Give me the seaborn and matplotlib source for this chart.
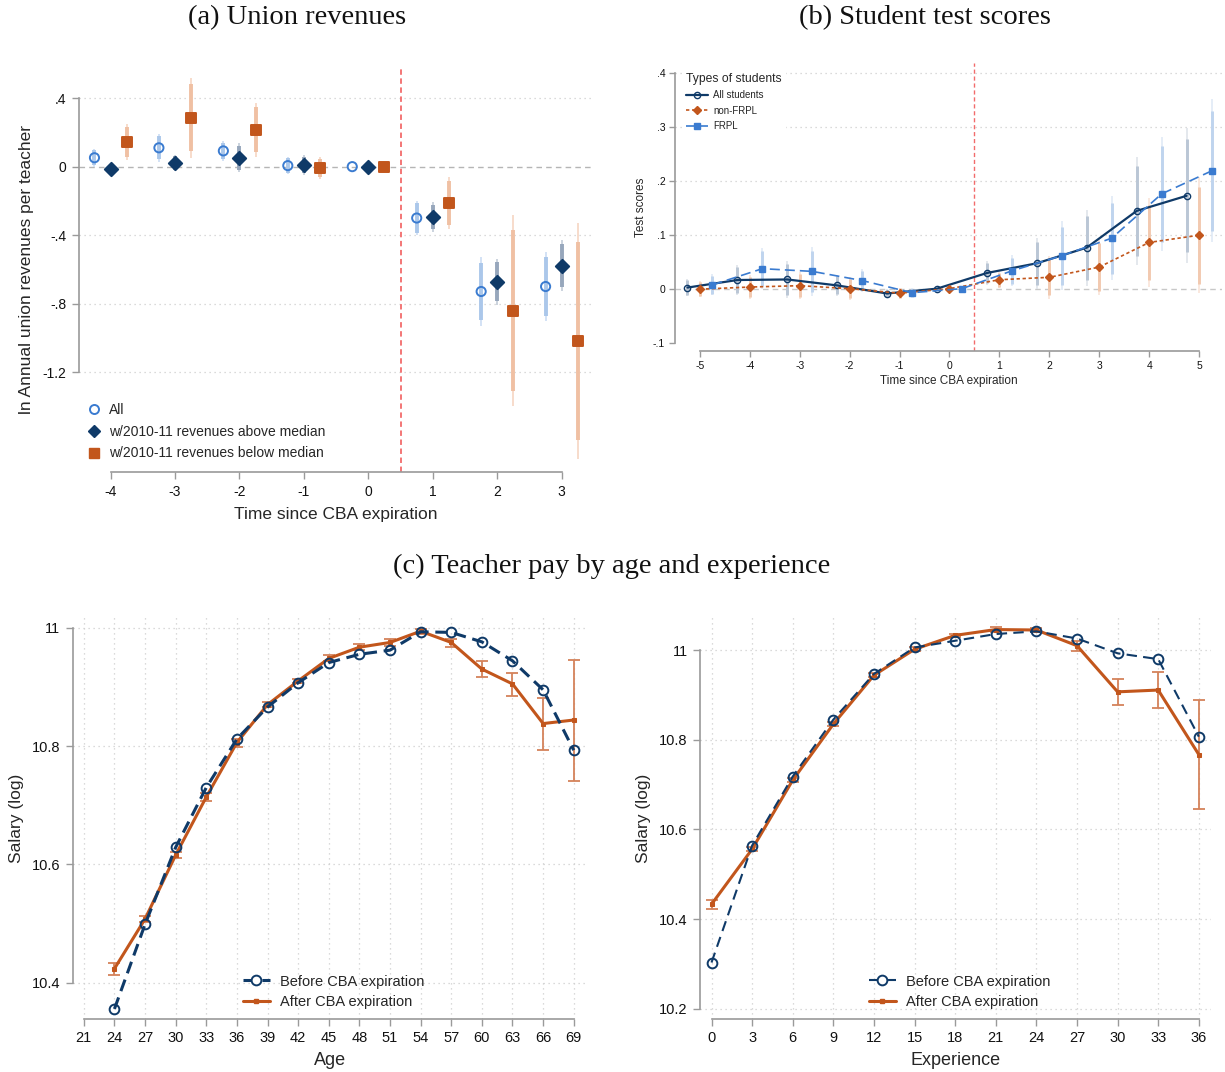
import numpy as np
import pandas as pd
import matplotlib
matplotlib.use("Agg")
import matplotlib.pyplot as plt
from matplotlib.ticker import FuncFormatter
from matplotlib.lines import Line2D
import seaborn as sns

sns.set_theme(style="white")
plt.rcParams["font.family"] = ["Liberation Sans", "DejaVu Sans"]
plt.rcParams["axes.unicode_minus"] = False

# ---------------- (a) Union revenues ----------------
a_time = [-4, -3, -2, -1, 0, 1, 2, 3]
a_all = [0.052, 0.110, 0.092, 0.006, 0.0, -0.300, -0.729, -0.700]
a_all_ci = [0.053, 0.080, 0.057, 0.051, 0.0, 0.102, 0.200, 0.204]
a_above = [-0.015, 0.020, 0.052, 0.010, 0.0, -0.294, -0.673, -0.579]
a_above_ci = [0.012, 0.048, 0.084, 0.056, 0.0, 0.086, 0.135, 0.149]
a_below = [0.144, 0.285, 0.215, -0.008, 0.0, -0.212, -0.840, -1.019]
a_below_ci = [0.106, 0.233, 0.157, 0.063, 0.0, 0.150, 0.557, 0.688]
a_labels = ["All", "w/2010-11 revenues above median", "w/2010-11 revenues below median"]

# ---------------- (b) Student test scores ----------------
b_time = [-5, -4, -3, -2, -1, 0, 1, 2, 3, 4, 5]
b_all = [0.002, 0.016, 0.017, 0.006, -0.009, 0.0, 0.029, 0.047, 0.076, 0.144, 0.172]
b_all_ci = [0.016, 0.028, 0.035, 0.020, 0.008, 0.0, 0.0215, 0.0475, 0.0705, 0.0995, 0.125]
b_nonfrpl = [-0.001, 0.003, 0.0055, 0.0, -0.0085, 0.0, 0.0165, 0.021, 0.040, 0.0856, 0.099]
b_nonfrpl_ci = [0.015, 0.022, 0.0255, 0.021, 0.0105, 0.0, 0.0155, 0.040, 0.052, 0.0825, 0.107]
b_frpl = [0.007, 0.037, 0.032, 0.015, -0.0075, 0.0, 0.033, 0.061, 0.0935, 0.1755, 0.218]
b_frpl_ci = [0.0195, 0.0385, 0.045, 0.0215, 0.0085, 0.0, 0.0285, 0.064, 0.078, 0.1055, 0.1325]
b_labels = ["All students", "non-FRPL", "FRPL"]

# ---------------- (c) Teacher pay ----------------
age = [24, 27, 30, 33, 36, 39, 42, 45, 48, 51, 54, 57, 60, 63, 66, 69]
age_before = [10.356, 10.499, 10.629, 10.730, 10.812, 10.866, 10.907, 10.941,
              10.955, 10.962, 10.993, 10.992, 10.976, 10.944, 10.895, 10.793]
age_after = [10.424, 10.508, 10.616, 10.714, 10.806, 10.870, 10.910, 10.948,
             10.967, 10.975, 10.994, 10.975, 10.930, 10.905, 10.838, 10.844]
age_after_lo = [10.413, 10.503, 10.611, 10.708, 10.799, 10.866, 10.906, 10.943,
                10.962, 10.969, 10.990, 10.968, 10.917, 10.885, 10.794, 10.741]
age_after_hi = [10.434, 10.513, 10.621, 10.720, 10.812, 10.874, 10.914, 10.953,
                10.972, 10.981, 10.998, 10.981, 10.944, 10.924, 10.881, 10.946]

exper = [0, 3, 6, 9, 12, 15, 18, 21, 24, 27, 30, 33, 36]
exp_before = [10.303, 10.564, 10.718, 10.845, 10.947, 11.006, 11.021, 11.036,
              11.042, 11.026, 10.993, 10.980, 10.807]
exp_after = [10.433, 10.556, 10.710, 10.835, 10.944, 11.002, 11.033, 11.046,
             11.045, 11.010, 10.907, 10.911, 10.767]
exp_after_lo = [10.422, 10.551, 10.705, 10.830, 10.940, 10.998, 11.029, 11.041,
                11.041, 10.999, 10.877, 10.870, 10.645]
exp_after_hi = [10.442, 10.561, 10.715, 10.840, 10.948, 11.006, 11.037, 11.051,
                11.049, 11.021, 10.935, 10.951, 10.888]
c_labels = ["Before CBA expiration", "After CBA expiration"]

NAVY = "#0f3a68"
BLUE = "#3a7bd0"
ORANGE = "#c2561c"
SPINE = "#9a9a9a"
GRID = "#cfcfcf"
RED = "#f26b6b"
Z90 = 1.645 / 1.96


def stata_fmt(v, _pos):
    s = f"{round(v, 6):g}"
    if s.startswith("0.") and len(s) > 2:
        s = s[1:]
    elif s.startswith("-0."):
        s = "-" + s[2:]
    return s


def style_axes(ax, xb, yb, tick_fs):
    for side in ("top", "right"):
        ax.spines[side].set_visible(False)
    for side in ("left", "bottom"):
        ax.spines[side].set_color(SPINE)
        ax.spines[side].set_linewidth(1.2)
    ax.spines["left"].set_bounds(*yb)
    ax.spines["bottom"].set_bounds(*xb)
    ax.tick_params(axis="both", which="both", direction="out", length=5,
                   width=1.0, color=SPINE, labelsize=tick_fs, pad=4,
                   labelcolor="#111111", left=True, bottom=True)
    ax.set_facecolor("white")
    ax.grid(False)


def hgrid(ax, vals):
    for v in vals:
        ax.axhline(v, color=GRID, lw=0.9, ls=(0, (1, 3)), zorder=0)


def vgrid(ax, vals):
    for v in vals:
        ax.axvline(v, color=GRID, lw=0.9, ls=(0, (1, 3)), zorder=0)


W, H = 1225, 1072
fig = plt.figure(figsize=(W / 100, H / 100), dpi=100)
fig.patch.set_facecolor("white")


def box(l, t, r, b):
    return [l / W, 1 - b / H, (r - l) / W, (b - t) / H]


title_font = dict(family=["Liberation Serif", "DejaVu Serif"], color="#111111")

# ======================= panel (a) =======================
ax = fig.add_axes(box(79, 68, 592, 472))
ax.set_xlim(-4.49, 3.47)
ax.set_ylim(-1.783, 0.576)
hgrid(ax, [0.4, -0.4, -0.8, -1.2])
ax.axhline(0, color="#b5b5b5", lw=1.0, ls=(0, (4, 3)), zorder=1)
ax.axvline(0.5, color=RED, lw=1.3, ls=(0, (3, 2)), zorder=1)

a_specs = [
    (a_all, a_all_ci, -0.25, "o", "none", BLUE, "#d3e2f5", "#abc7ea", 6.6),
    (a_above, a_above_ci, 0.0, "D", NAVY, NAVY, "#cbd3de", "#97a7bc", 6.8),
    (a_below, a_below_ci, 0.25, "s", ORANGE, ORANGE, "#f7dccb", "#f0c0a3", 7.0),
]
for (est, ci, off, mk, fc, ec, c_out, c_in, ms), lab in zip(a_specs, a_labels):
    x = np.array(a_time) + off
    est = np.array(est)
    ci = np.array(ci)
    ax.vlines(x, est - ci, est + ci, color=c_out, lw=1.4, zorder=2)
    ax.vlines(x, est - ci * Z90, est + ci * Z90, color=c_in, lw=2.8, zorder=2)
    df = pd.DataFrame({"t": x, "v": est})
    sns.scatterplot(data=df, x="t", y="v", ax=ax, marker=mk, s=ms ** 2,
                    facecolor=fc, edgecolor=ec, linewidth=1.4, zorder=4,
                    legend=False)

style_axes(ax, (-4, 3), (-1.2, 0.4), 10)
ax.set_xticks(a_time)
ax.set_yticks([0.4, 0, -0.4, -0.8, -1.2])
ax.yaxis.set_major_formatter(FuncFormatter(stata_fmt))
ax.set_xlabel("Time since CBA expiration", fontsize=12.5, labelpad=6)
ax.set_ylabel("ln Annual union revenues per teacher", fontsize=12.5, labelpad=6)
leg_handles = [
    Line2D([], [], ls="none", marker="o", ms=6.5, mfc="white", mec=BLUE, mew=1.4),
    Line2D([], [], ls="none", marker="D", ms=6.5, mfc=NAVY, mec=NAVY),
    Line2D([], [], ls="none", marker="s", ms=6.5, mfc=ORANGE, mec=ORANGE),
]
ax.legend(leg_handles, a_labels, loc="lower left", bbox_to_anchor=(0.005, 0.015),
          frameon=False, fontsize=10, handlelength=1.0, handletextpad=0.6,
          labelspacing=0.55, borderaxespad=0)
fig.text(297 / W, 1 - 18 / H, "(a) Union revenues", ha="center", va="center",
         fontsize=20.5, **title_font)

# ======================= panel (b) =======================
bx = fig.add_axes(box(675, 63, 1222, 351))
bx.set_xlim(-5.5, 5.46)
bx.set_ylim(-0.1155, 0.418)
hgrid(bx, [0.1, 0.2, 0.3, 0.4])
bx.axhline(0, color="#c8c8c8", lw=1.0, ls=(0, (4, 3)), zorder=1)
bx.axvline(0.5, color=RED, lw=1.0, ls=(0, (3, 2)), zorder=1)

b_specs = [
    (b_all, b_all_ci, -0.25, "o", "none", NAVY, "-", 1.6, "#dfe4ea", "#bac6d5", 4.5),
    (b_nonfrpl, b_nonfrpl_ci, 0.0, "D", ORANGE, ORANGE, (0, (2, 1.6)), 1.2, "#f9e4d8", "#f2c9b0", 4.5),
    (b_frpl, b_frpl_ci, 0.25, "s", BLUE, BLUE, (0, (6, 3)), 1.2, "#e0eaf6", "#bfd4ee", 5.0),
]
b_handles = []
for (est, ci, off, mk, fc, ec, ls, lw, c_out, c_in, ms), lab in zip(b_specs, b_labels):
    x = np.array(b_time) + off
    est = np.array(est)
    ci = np.array(ci)
    bx.vlines(x, est - ci, est + ci, color=c_out, lw=1.2, zorder=2)
    bx.vlines(x, est - ci * Z90, est + ci * Z90, color=c_in, lw=2.1, zorder=2)
    df = pd.DataFrame({"t": x, "v": est})
    sns.lineplot(data=df, x="t", y="v", ax=bx, sort=False, errorbar=None,
                 color=ec, linestyle=ls, lw=lw, marker=mk, markersize=ms,
                 markerfacecolor=fc, markeredgecolor=ec, markeredgewidth=1.0,
                 zorder=4)
    b_handles.append(Line2D([], [], color=ec, ls=ls, lw=lw, marker=mk, ms=ms,
                            mfc=fc, mec=ec, mew=1.0))

style_axes(bx, (-5, 5), (-0.1, 0.4), 7.5)
bx.tick_params(length=4, pad=3)
bx.set_xticks(b_time)
bx.set_yticks([-0.1, 0, 0.1, 0.2, 0.3, 0.4])
bx.yaxis.set_major_formatter(FuncFormatter(stata_fmt))
bx.set_xlabel("Time since CBA expiration", fontsize=8.5, labelpad=3)
bx.set_ylabel("Test scores", fontsize=8.5, labelpad=4)
lg = bx.legend(b_handles, b_labels, title="Types of students", loc="upper left",
               bbox_to_anchor=(0.015, 0.975), frameon=True, fontsize=7,
               title_fontsize=8.7, handlelength=2.2, handletextpad=0.6,
               labelspacing=0.55, borderpad=0.3, borderaxespad=0)
lg.get_frame().set_facecolor("white")
lg.get_frame().set_edgecolor("white")
lg.get_frame().set_alpha(1.0)
lg._legend_box.align = "left"
fig.text(925 / W, 1 - 18 / H, "(b) Student test scores", ha="center", va="center",
         fontsize=20.5, **title_font)

# ======================= panel (c) =======================
fig.text(612 / W, 1 - 566 / H, "(c) Teacher pay by age and experience",
         ha="center", va="center", fontsize=20.5, **title_font)


def pay_panel(ax, x, before, after, lo, hi, xlim, ylim, xticks, yticks,
              xlabel, before_ls, before_lw):
    ax.set_xlim(*xlim)
    ax.set_ylim(*ylim)
    hgrid(ax, yticks)
    vgrid(ax, xticks)
    after = np.array(after)
    ax.errorbar(x, after, yerr=[after - np.array(lo), np.array(hi) - after],
                fmt="none", ecolor="#d4825a", elinewidth=1.3, capsize=4,
                capthick=1.3, zorder=3)
    df_after = pd.DataFrame({"x": x, "y": after})
    df_before = pd.DataFrame({"x": x, "y": before})
    sns.lineplot(data=df_after, x="x", y="y", ax=ax, sort=False, errorbar=None,
                 color=ORANGE, lw=2.2, marker="s", markersize=3.2,
                 markerfacecolor=ORANGE, markeredgecolor=ORANGE, zorder=4)
    sns.lineplot(data=df_before, x="x", y="y", ax=ax, sort=False, errorbar=None,
                 color=NAVY, lw=before_lw, linestyle=before_ls, marker="o",
                 markersize=7, markerfacecolor="none", markeredgecolor=NAVY,
                 markeredgewidth=1.4, zorder=5)
    style_axes(ax, (xticks[0], xticks[-1]), (yticks[0], yticks[-1]), 10.5)
    ax.set_xticks(xticks)
    ax.set_yticks(yticks)
    ax.yaxis.set_major_formatter(FuncFormatter(lambda v, p: f"{v:g}"))
    ax.set_xlabel(xlabel, fontsize=13, labelpad=5)
    ax.set_ylabel("Salary (log)", fontsize=12.5, labelpad=6)
    handles = [
        Line2D([], [], color=NAVY, lw=before_lw, ls=before_ls, marker="o", ms=7,
               mfc="white", mec=NAVY, mew=1.4),
        Line2D([], [], color=ORANGE, lw=2.2, marker="s", ms=3.2, mfc=ORANGE, mec=ORANGE),
    ]
    return handles


cl = fig.add_axes(box(73, 617, 587, 1019))
h = pay_panel(cl, age, age_before, age_after, age_after_lo, age_after_hi,
              (19.94, 70.3), (10.339, 11.018), list(range(21, 70, 3)),
              [10.4, 10.6, 10.8, 11.0], "Age", (0, (4, 2.2)), 2.2)
cl.legend(h, c_labels, loc="lower left", bbox_to_anchor=(0.32, 0.01),
          frameon=False, fontsize=10.5, handlelength=1.8, handletextpad=0.7,
          labelspacing=0.45, borderaxespad=0)

cr = fig.add_axes(box(700, 617, 1211, 1019))
h = pay_panel(cr, exper, exp_before, exp_after, exp_after_lo, exp_after_hi,
              (-0.85, 36.9), (10.177, 11.074), list(range(0, 37, 3)),
              [10.2, 10.4, 10.6, 10.8, 11.0], "Experience", (0, (5, 3)), 1.5)
cr.legend(h, c_labels, loc="lower left", bbox_to_anchor=(0.32, 0.01),
          frameon=False, fontsize=10.5, handlelength=1.8, handletextpad=0.7,
          labelspacing=0.45, borderaxespad=0)

fig.savefig("out.png", dpi=100, facecolor="white")
